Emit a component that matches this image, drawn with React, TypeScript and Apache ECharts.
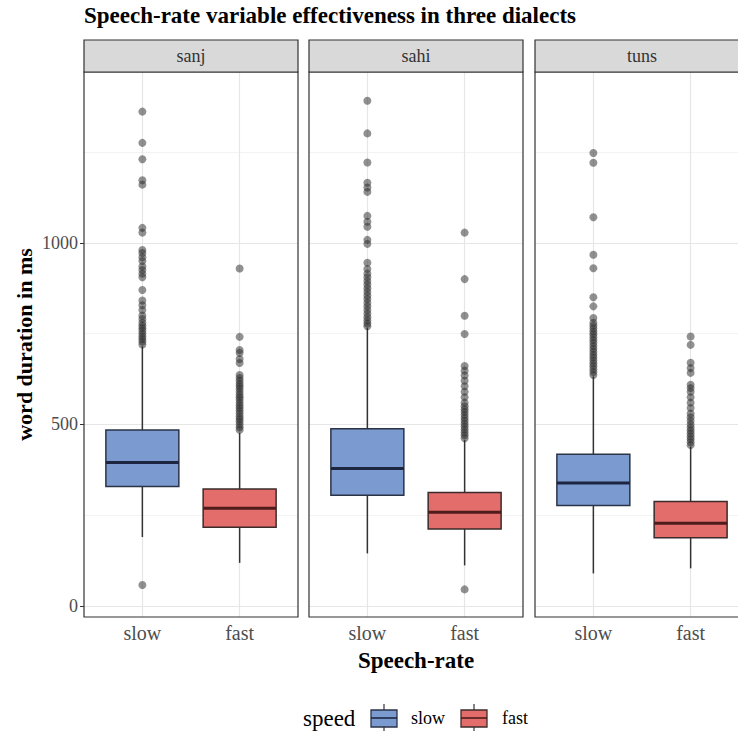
import React, { useEffect, useRef } from "react";
import * as echarts from "echarts";

// ---- data ----
const dialects = ["sanj", "sahi", "tuns"];
const speeds = ["slow", "fast"];
const yTicks = [0, 500, 1000];
const yMinorGrid = [250, 750, 1250];

// [lower whisker, Q1, median, Q3, upper whisker]
const sanjSlow = [190, 329, 395, 485, 715];
const sanjFast = [119, 217, 269, 322, 477];
const sahiSlow = [145, 305, 379, 488, 766];
const sahiFast = [112, 212, 258, 313, 457];
const tunsSlow = [90, 277, 339, 418, 632];
const tunsFast = [104, 188, 228, 288, 439];

const sanjSlowOut = [58, 720, 728, 735, 742, 750, 758, 765, 772, 780, 790, 800, 815, 828, 841, 870, 905, 915, 925, 935, 950, 960, 972, 980, 1028, 1041, 1160, 1172, 1230, 1275, 1361];
const sanjFastOut = [485, 492, 500, 508, 515, 522, 530, 538, 545, 552, 560, 568, 575, 582, 590, 598, 605, 612, 620, 628, 636, 669, 680, 697, 705, 741, 929];
const sahiSlowOut = [770, 778, 786, 795, 805, 815, 825, 835, 845, 855, 865, 875, 885, 895, 905, 915, 928, 945, 997, 1008, 1044, 1058, 1074, 1140, 1152, 1165, 1221, 1301, 1391];
const sahiFastOut = [46, 462, 470, 478, 486, 494, 502, 510, 518, 526, 534, 542, 550, 560, 575, 590, 605, 620, 635, 648, 661, 749, 799, 900, 1028];
const tunsSlowOut = [636, 644, 652, 660, 668, 676, 684, 692, 700, 708, 716, 724, 732, 740, 748, 756, 764, 772, 780, 793, 825, 850, 930, 967, 1070, 1220, 1247];
const tunsFastOut = [443, 451, 459, 467, 475, 483, 491, 500, 510, 520, 530, 545, 560, 575, 590, 600, 609, 642, 655, 670, 719, 742];

const boxes = [
  [sanjSlow, sanjFast],
  [sahiSlow, sahiFast],
  [tunsSlow, tunsFast],
];
const outliers = [
  [sanjSlowOut, sanjFastOut],
  [sahiSlowOut, sahiFastOut],
  [tunsSlowOut, tunsFastOut],
];

// ---- styles ----
const FONT = "Liberation Serif";
const FILLS = ["#7b9bd0", "#e26d6b"];
const BORDERS = ["#2b3346", "#3d2b2b"];
const MEDIANS = ["#1d2640", "#4f1c1c"];
const PANEL_LEFT = [84, 309, 535];
const PANEL_W = 214;
const PANEL_TOP = 72;
const PANEL_H = 545;
const STRIP_TOP = 40;
const Y_MIN = -30;
const Y_MAX = 1470;

export default function App() {
  const ref = useRef<HTMLDivElement>(null);

  useEffect(() => {
    if (!ref.current) return;
    const chart = echarts.init(ref.current, null, { renderer: "svg" });

    const grids = PANEL_LEFT.map((l) => ({
      left: l,
      top: PANEL_TOP,
      width: PANEL_W,
      height: PANEL_H,
      containLabel: false,
      outerBoundsMode: "none",
    }));

    const xAxes = PANEL_LEFT.map((_, i) => ({
      type: "value",
      gridIndex: i,
      min: 0.4,
      max: 2.6,
      axisLine: { show: false },
      axisTick: { show: true, customValues: [1, 2], length: 4, lineStyle: { color: "#333", width: 1 } },
      axisLabel: {
        customValues: [1, 2],
        formatter: (v: number) => speeds[Math.round(v) - 1] || "",
        fontFamily: FONT,
        fontSize: 20,
        color: "#4d4d4d",
        margin: 6,
      },
      splitLine: { show: false },
      name: i === 1 ? "Speech-rate" : "",
      nameLocation: "middle",
      nameGap: 32,
      nameTextStyle: { fontFamily: FONT, fontSize: 23, fontWeight: "bold", color: "#000" },
    }));

    const yAxes = PANEL_LEFT.map((_, i) => ({
      type: "value",
      gridIndex: i,
      min: Y_MIN,
      max: Y_MAX,
      axisLine: { show: false },
      axisTick: { show: i === 0, customValues: yTicks, length: 4, lineStyle: { color: "#333", width: 1 } },
      axisLabel: {
        show: i === 0,
        customValues: yTicks,
        formatter: (v: number) => String(v),
        fontFamily: FONT,
        fontSize: 18,
        color: "#4d4d4d",
        margin: 6,
      },
      splitLine: { show: false },
      name: i === 0 ? "word duration in ms" : "",
      nameLocation: "middle",
      nameGap: 49,
      nameTextStyle: { fontFamily: FONT, fontSize: 22, fontWeight: "bold", color: "#000" },
    }));

    const gridLineData: any[] = [];
    yTicks.forEach((v) => gridLineData.push({ yAxis: v, lineStyle: { color: "#e6e6e6", width: 1.2, type: "solid" } }));
    yMinorGrid.forEach((v) => gridLineData.push({ yAxis: v, lineStyle: { color: "#f0f0f0", width: 0.8, type: "solid" } }));
    [1, 2].forEach((v) => gridLineData.push({ xAxis: v, lineStyle: { color: "#e6e6e6", width: 1.2, type: "solid" } }));

    const series: any[] = [];
    dialects.forEach((d, i) => {
      series.push({
        type: "custom",
        name: d + " boxes",
        xAxisIndex: i,
        yAxisIndex: i,
        z: 3,
        clip: false,
        encode: { x: 0, y: [1, 2, 3, 4, 5] },
        data: boxes[i].map((b, k) => [k + 1, ...b, k]),
        renderItem: (params: any, api: any) => {
          const x = api.value(0);
          const k = api.value(6);
          const lo = api.coord([x, api.value(1)]);
          const q1 = api.coord([x, api.value(2)]);
          const med = api.coord([x, api.value(3)]);
          const q3 = api.coord([x, api.value(4)]);
          const hi = api.coord([x, api.value(5)]);
          const right = api.coord([x + 0.375, api.value(3)]);
          const cx = lo[0];
          const hw = right[0] - cx;
          return {
            type: "group",
            children: [
              { type: "line", shape: { x1: cx, y1: hi[1], x2: cx, y2: q3[1] }, style: { stroke: "#333", lineWidth: 1.5 } },
              { type: "line", shape: { x1: cx, y1: q1[1], x2: cx, y2: lo[1] }, style: { stroke: "#333", lineWidth: 1.5 } },
              {
                type: "rect",
                shape: { x: cx - hw, y: q3[1], width: 2 * hw, height: q1[1] - q3[1] },
                style: { fill: FILLS[k], stroke: BORDERS[k], lineWidth: 1.5 },
              },
              {
                type: "line",
                shape: { x1: cx - hw, y1: med[1], x2: cx + hw, y2: med[1] },
                style: { stroke: MEDIANS[k], lineWidth: 3 },
              },
            ],
          };
        },
      });
      const pts: number[][] = [];
      outliers[i].forEach((arr, k) => arr.forEach((v) => pts.push([k + 1, v])));
      series.push({
        type: "scatter",
        name: d + " outliers",
        xAxisIndex: i,
        yAxisIndex: i,
        z: 5,
        symbolSize: 8,
        itemStyle: { color: "rgba(45,45,45,0.65)" },
        data: pts,
        markLine: {
          z: 1,
          silent: true,
          symbol: "none",
          label: { show: false },
          data: gridLineData,
        },
      });
    });

    const graphics: any[] = [];
    PANEL_LEFT.forEach((l, i) => {
      graphics.push({
        type: "rect",
        shape: { x: l, y: PANEL_TOP, width: PANEL_W, height: PANEL_H },
        style: { fill: "none", stroke: "#333", lineWidth: 1.2 },
        z: 10,
        silent: true,
      });
      graphics.push({
        type: "rect",
        shape: { x: l, y: STRIP_TOP, width: PANEL_W, height: PANEL_TOP - STRIP_TOP },
        style: { fill: "#d9d9d9", stroke: "#333", lineWidth: 1.2 },
        z: 10,
        silent: true,
      });
      graphics.push({
        type: "text",
        x: l + PANEL_W / 2,
        y: (STRIP_TOP + PANEL_TOP) / 2,
        style: {
          text: dialects[i],
          fontFamily: FONT,
          fontSize: 18,
          fill: "#333",
          textAlign: "center",
          textVerticalAlign: "middle",
        },
        z: 11,
      });
    });

    // legend
    const legY = 718;
    graphics.push({
      type: "text",
      x: 303,
      y: legY,
      style: { text: "speed", fontFamily: FONT, fontSize: 23, fill: "#000", textAlign: "left", textVerticalAlign: "middle" },
    });
    const keyX = [371, 461];
    const labX = [411, 502];
    speeds.forEach((s, k) => {
      graphics.push({ type: "line", shape: { x1: keyX[k] + 13, y1: 704, x2: keyX[k] + 13, y2: 731 }, style: { stroke: "#333", lineWidth: 1.2 } });
      graphics.push({
        type: "rect",
        shape: { x: keyX[k], y: 710, width: 26, height: 17 },
        style: { fill: FILLS[k], stroke: BORDERS[k], lineWidth: 1.3 },
      });
      graphics.push({ type: "line", shape: { x1: keyX[k], y1: legY, x2: keyX[k] + 26, y2: legY }, style: { stroke: MEDIANS[k], lineWidth: 1.6 } });
      graphics.push({
        type: "text",
        x: labX[k],
        y: legY,
        style: { text: s, fontFamily: FONT, fontSize: 18, fill: "#000", textAlign: "left", textVerticalAlign: "middle" },
      });
    });

    chart.setOption({
      animation: false,
      backgroundColor: "#ffffff",
      title: {
        text: "Speech-rate variable effectiveness in three dialects",
        left: 84,
        top: 4,
        padding: 0,
        textStyle: { fontFamily: FONT, fontSize: 23, fontWeight: "bold", color: "#000" },
      },
      grid: grids,
      xAxis: xAxes,
      yAxis: yAxes,
      series,
      graphic: graphics,
    });

    return () => chart.dispose();
  }, []);

  return (
    <div
      ref={ref}
      style={{ position: "absolute", left: 0, top: 0, width: 738, height: 731 }}
    />
  );
}
